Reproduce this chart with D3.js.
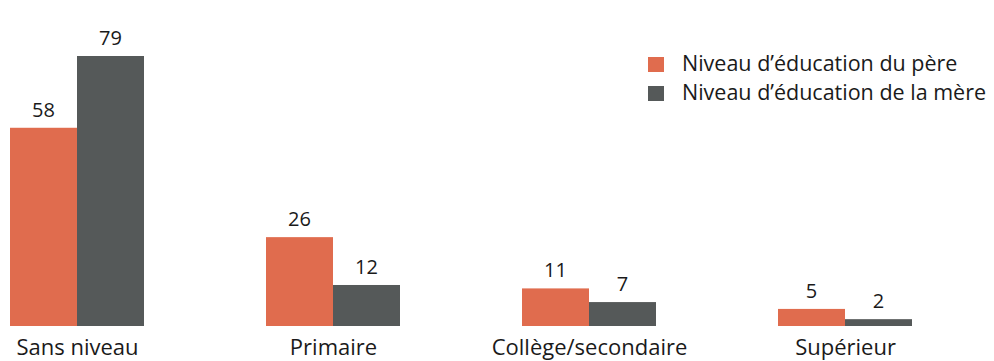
<!DOCTYPE html>
<html>
<head>
<meta charset="utf-8">
<script src="https://cdn.jsdelivr.net/npm/d3@7"></script>
<style>
  html, body { margin: 0; padding: 0; background: #fff; }
  svg { display: block; font-family: "Open Sans", "Noto Sans", sans-serif; }
</style>
</head>
<body>
<svg id="chart" width="994" height="361"></svg>
<script>
// Niveau d'éducation des parents (%)
const categories = ["Sans niveau", "Primaire", "Collège/secondaire", "Supérieur"];
const seriesNames = ["Niveau d’éducation du père", "Niveau d’éducation de la mère"];
const pere = [58, 26, 11, 5];
const mere = [79, 12, 7, 2];
const colors = ["#E06C4E", "#555959"];

const svg = d3.select("#chart");
const baseline = 326;
const plotTop = 56;

const x0 = d3.scaleBand()
  .domain(categories)
  .range([10, 1034])
  .paddingInner(0)
  .paddingOuter(0);
const x1 = d3.scaleBand()
  .domain([0, 1])
  .range([0, 134]);
const y = d3.scaleLinear()
  .domain([0, d3.max(mere.concat(pere))])
  .range([baseline, plotTop]);

const rows = categories.map((c, i) => ({ cat: c, vals: [pere[i], mere[i]] }));

const groups = svg.selectAll("g.grp")
  .data(rows)
  .join("g")
  .attr("class", "grp")
  .attr("transform", d => `translate(${x0(d.cat)},0)`);

groups.selectAll("rect")
  .data(d => d.vals.map((v, k) => ({ v, k })))
  .join("rect")
  .attr("x", d => x1(d.k))
  .attr("width", x1.bandwidth())
  .attr("y", d => y(d.v))
  .attr("height", d => baseline - y(d.v))
  .attr("fill", d => colors[d.k]);

groups.selectAll("text.val")
  .data(d => d.vals.map((v, k) => ({ v, k })))
  .join("text")
  .attr("class", "val")
  .attr("x", d => x1(d.k) + x1.bandwidth() / 2)
  .attr("y", d => y(d.v) - 11)
  .attr("text-anchor", "middle")
  .attr("font-size", 20)
  .attr("fill", "#1a1a1a")
  .text(d => d.v);

// Category axis labels
const xAxis = d3.axisBottom(
  d3.scalePoint().domain(categories).range([x0(categories[0]) + 67, x0(categories[3]) + 67])
).tickSize(0).tickPadding(0);
const ax = svg.append("g").attr("transform", `translate(0,${baseline + 12})`).call(xAxis);
ax.select(".domain").remove();
ax.selectAll("text")
  .attr("font-size", 22)
  .attr("font-family", "\"Open Sans\", \"Noto Sans\", sans-serif")
  .attr("fill", "#1a1a1a")
  .attr("dy", "0.78em");

// Legend
const legend = svg.append("g").attr("transform", "translate(648,57)");
seriesNames.forEach((name, i) => {
  const g = legend.append("g").attr("transform", `translate(0,${i * 29})`);
  g.append("rect").attr("width", 16).attr("height", 15).attr("fill", colors[i]);
  g.append("text")
    .attr("x", 34)
    .attr("y", 14)
    .attr("font-size", 21.5)
    .attr("fill", "#1a1a1a")
    .text(name);
});
</script>
</body>
</html>
